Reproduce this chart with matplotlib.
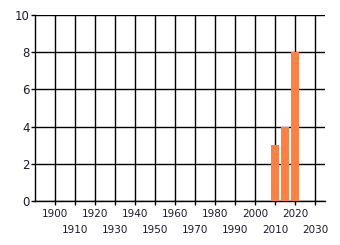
import matplotlib
matplotlib.use('Agg')
import matplotlib.pyplot as plt
import numpy as np

years = [2010, 2015, 2020]
values = [3, 4, 8]

major_years = list(range(1900, 2031, 20))
minor_years = list(range(1910, 2031, 20))
y_ticks = [0, 2, 4, 6, 8, 10]

fig = plt.figure(figsize=(3.4, 2.45), dpi=100)
ax = fig.add_axes([35/340, 44/245, 290/340, 186/245])

ax.bar(years, values, width=3.8, color='#FF8040', zorder=3)

ax.set_xlim(1890, 2035)
ax.set_ylim(0, 10)
ax.set_yticks(y_ticks)
ax.set_xticks(major_years)
ax.set_xticks(minor_years, minor=True)
ax.set_xticklabels([str(y) for y in major_years])
ax.set_xticklabels([str(y) for y in minor_years], minor=True)

ax.grid(True, which='both', color='black', linewidth=1.0, zorder=1)
ax.set_axisbelow(True)

for s in ['top', 'right']:
    ax.spines[s].set_visible(False)
for s in ['left', 'bottom']:
    ax.spines[s].set_linewidth(1.0)

txt = '#1a1a30'
ax.tick_params(axis='x', which='major', length=3, width=1, pad=3, labelsize=7.5, labelcolor=txt)
ax.tick_params(axis='x', which='minor', length=3, width=1, pad=14, labelsize=7.5, labelcolor=txt)
ax.tick_params(axis='y', length=3, width=1, pad=1, labelsize=8.5, labelcolor=txt)

fig.savefig('out.png', dpi=100)
